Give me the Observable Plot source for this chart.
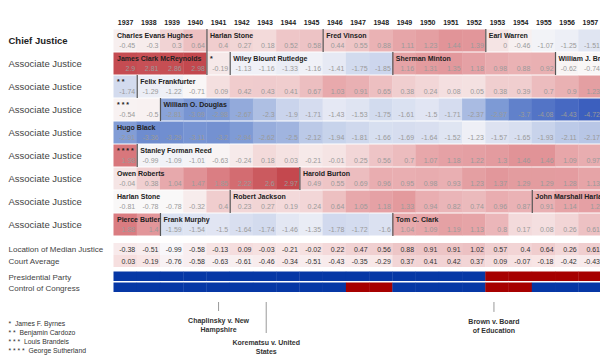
<!DOCTYPE html>
<html><head><meta charset="utf-8">
<script src="https://cdn.jsdelivr.net/npm/d3@7"></script>
<script src="https://cdn.jsdelivr.net/npm/@observablehq/plot@0.6"></script>
<style>
html,body{margin:0;padding:0;background:#fff;overflow:hidden;width:600px;height:360px}
#chart svg{display:block}
</style></head><body><div id="chart"></div>
<script>
// ---- categories ----
const years = [1937,1938,1939,1940,1941,1942,1943,1944,1945,1946,1947,1948,1949,1950,1951,1952,1953,1954,1955,1956,1957];
const rowLabels = ["Chief Justice","Associate Justice","Associate Justice","Associate Justice","Associate Justice","Associate Justice","Associate Justice","Associate Justice","Associate Justice"];

// ---- justice scores (one array per tenure segment) ----
const hughes = [-0.45,-0.3,0.3,0.64];
const stoneCJ = [0.4,0.27,0.18,0.52,0.58];
const vinson = [0.44,0.55,0.88,1.11,1.23,1.44,1.39];
const warren = [0,-0.46,-1.07,-1.25,-1.51];
const mcreynolds = [2.9,2.81,2.86,2.98];
const byrnes = [-0.19];
const rutledge = [-1.13,-1.16,-1.33,-1.16,-1.41,-1.75,-1.85];
const minton = [1.16,1.31,1.35,1.18,0.98,0.88,0.92];
const brennan = [-0.62,-0.74];
const cardozo = [-1.74];
const frankfurter = [-1.29,-1.22,-0.71,0.09,0.42,0.43,0.41,0.67,1.03,0.91,0.65,0.38,0.24,0.08,0.05,0.38,0.39,0.7,0.9,1.23];
const brandeis = [-0.54,-0.5];
const douglas = [-2.81,-3.09,-2.98,-2.67,-2.3,-1.9,-1.71,-1.43,-1.53,-1.75,-1.61,-1.5,-1.71,-2.37,-2.97,-3.7,-4.08,-4.43,-4.72];
const black = [-2.91,-3.36,-3.29,-3.11,-3.2,-2.94,-2.62,-2.5,-2.12,-1.94,-1.81,-1.66,-1.69,-1.64,-1.52,-1.23,-1.57,-1.65,-1.93,-2.11,-2.17];
const sutherland = [1.98];
const reed = [-0.99,-1.09,-1.01,-0.63,-0.24,0.18,0.03,-0.21,-0.01,0.25,0.56,0.7,1.07,1.18,1.22,1.3,1.46,1.46,1.09,0.97];
const roberts = [-0.04,0.38,1.04,1.47,1.85,2.22,2.6,2.97];
const burton = [0.49,0.55,0.69,0.96,0.95,0.98,0.93,1.23,1.37,1.29,1.29,1.28,1.13];
const stoneAJ = [-0.81,-0.78,-0.78,-0.32,0.4];
const jackson = [0.23,0.27,0.19,0.24,0.64,1.05,1.18,1.33,0.94,0.82,0.74,0.96,0.87];
const harlan = [0.91,1.14,1.2];
const butler = [1.88,1.4];
const murphy = [-1.59,-1.54,-1.5,-1.64,-1.74,-1.46,-1.35,-1.78,-1.72,-1.6];
const clark = [1.04,1.09,1.19,1.13,0.8,0.17,0.08,0.26,0.61];

// ---- summary rows ----
const medianJustice = [-0.38,-0.51,-0.99,-0.58,-0.13,0.09,-0.03,-0.21,-0.02,0.22,0.47,0.56,0.88,0.91,0.91,1.02,0.57,0.4,0.64,0.26,0.61];
const courtAverage = [0.03,-0.19,-0.76,-0.58,-0.63,-0.61,-0.46,-0.34,-0.51,-0.43,-0.35,-0.29,0.37,0.41,0.42,0.37,0.09,-0.07,-0.18,-0.42,-0.43];
const presidentialParty = ["D","D","D","D","D","D","D","D","D","D","D","D","D","D","D","D","R","R","R","R","R"];
const congressControl = ["D","D","D","D","D","D","D","D","D","D","R","R","D","D","D","D","R","R","D","D","D"];

// ---- annotations ----
const caseNames = ["Chaplinsky v. New\nHampshire","Korematsu v. United\nStates","Brown v. Board\nof Education"];
const casePositions = [1941.5, 1943.55, 1953.35];
const caseDepth = [0.29, 1, 0.32];
const footnotes = ["*\u00a0\u00a0James F. Byrnes","* *\u00a0\u00a0Benjamin Cardozo","* * *\u00a0\u00a0Louis Brandeis","* * * *\u00a0\u00a0George Sutherland"];

// ---- tables built from the arrays ----
const segments = [
  {row:0,name:"Charles Evans Hughes",start:1937,values:hughes},
  {row:0,name:"Harlan Stone",start:1941,values:stoneCJ},
  {row:0,name:"Fred Vinson",start:1946,values:vinson},
  {row:0,name:"Earl Warren",start:1953,values:warren},
  {row:1,name:"James Clark McReynolds",start:1937,values:mcreynolds},
  {row:1,name:"*",start:1941,values:byrnes},
  {row:1,name:"Wiley Blount Rutledge",start:1942,values:rutledge},
  {row:1,name:"Sherman Minton",start:1949,values:minton},
  {row:1,name:"William J. Brennan",start:1956,values:brennan},
  {row:2,name:"* *",start:1937,values:cardozo},
  {row:2,name:"Felix Frankfurter",start:1938,values:frankfurter},
  {row:3,name:"* * *",start:1937,values:brandeis},
  {row:3,name:"William O. Douglas",start:1939,values:douglas},
  {row:4,name:"Hugo Black",start:1937,values:black},
  {row:5,name:"* * * *",start:1937,values:sutherland},
  {row:5,name:"Stanley Forman Reed",start:1938,values:reed},
  {row:6,name:"Owen Roberts",start:1937,values:roberts},
  {row:6,name:"Harold Burton",start:1945,values:burton},
  {row:7,name:"Harlan Stone",start:1937,values:stoneAJ},
  {row:7,name:"Robert Jackson",start:1942,values:jackson},
  {row:7,name:"John Marshall Harlan",start:1955,values:harlan},
  {row:8,name:"Pierce Butler",start:1937,values:butler},
  {row:8,name:"Frank Murphy",start:1939,values:murphy},
  {row:8,name:"Tom C. Clark",start:1949,values:clark}
];
const cells = segments.flatMap(s => s.values.map((v,i) => ({row:s.row, year:s.start+i, value:v})));
const statCells = years.flatMap((y,i) => [{row:"median",year:y,value:medianJustice[i]},{row:"avg",year:y,value:courtAverage[i]}]);
const partyCells = years.flatMap((y,i) => [{row:"pres",year:y,party:presidentialParty[i]},{row:"cong",year:y,party:congressControl[i]}]);
const cases = caseNames.map((n,i) => ({label:n, x:casePositions[i], depth:caseDepth[i]}));

const font = "'Liberation Sans', Arial, Helvetica, sans-serif";
const style = {fontFamily: font, background: "white", overflow: "hidden"};
const xScale = {domain:[1937,1958], range:[113.5,601.5], axis:null};

const heat = Plot.plot({
  width:600, height:240, marginTop:26, marginBottom:2, marginLeft:114, marginRight:0,
  style,
  x: xScale,
  y: {type:"band", domain:[0,1,2,3,4,5,6,7,8], padding:0, axis:null},
  color: {type:"linear", domain:[-4.72,-3,-2,-1.3,-0.8,0,1,2,3],
          range:["#3c5fbe","#7b98d4","#c4d0ea","#eceef6","#f9f8f8","#f5e4e4","#e8abae","#d8767b","#c3474d"], interpolate:"rgb"},
  marks: [
    Plot.barX(cells, {x1:"year", x2:d=>d.year+1, y:"row", fill:"value", insetTop:0.5, insetBottom:0.5, insetRight:-0.3}),
    Plot.tickX(segments.filter(s=>s.start>1937), {x:"start", y:"row", stroke:"#555", strokeWidth:1.2}),
    Plot.text(cells, {x:d=>d.year+1, y:"row", text:d=>String(d.value), dx:-2, dy:4.5, textAnchor:"end", fontSize:7, fill:"#9a9a9a"}),
    Plot.text(segments, {x:"start", y:"row", text:"name", dx:3, dy:-5.5, textAnchor:"start", fontWeight:"bold", fontSize:7, fill:"#222"}),
    Plot.text(years, {x:d=>d+0.5, text:String, frameAnchor:"top", dy:-6, fontWeight:"bold", fontSize:7, fill:"#222"}),
    Plot.text(rowLabels.slice(0,1), {y:(d,i)=>i, text:d=>d, frameAnchor:"left", dx:-106, textAnchor:"start", fontSize:9.5, fontWeight:"bold", fill:"#222"}),
    Plot.text(rowLabels.slice(1), {y:(d,i)=>i+1, text:d=>d, frameAnchor:"left", dx:-106, textAnchor:"start", fontSize:9.5, fill:"#444"})
  ]
});

const stats = Plot.plot({
  width:600, height:28, marginTop:3, marginBottom:1, marginLeft:114, marginRight:0,
  style,
  x: xScale,
  y: {type:"band", domain:["median","avg"], padding:0, axis:null},
  color: {type:"linear", domain:[-1,-0.2,1.1], range:["#f8f7fa","#f8e6e6","#ebbfc1"], interpolate:"rgb"},
  marks: [
    Plot.barX(statCells, {x1:"year", x2:d=>d.year+1, y:"row", fill:"value", insetRight:-0.3}),
    Plot.text(statCells, {x:d=>d.year+1, y:"row", text:d=>String(d.value), dx:-2, textAnchor:"end", fontSize:7, fill:"#333"}),
    Plot.text(["Location of Median Justice","Court Average"], {y:(d,i)=>i===0?"median":"avg", text:d=>d, frameAnchor:"left", dx:-106, textAnchor:"start", fontSize:8, fill:"#444"})
  ]
});

const party = Plot.plot({
  width:600, height:27, marginTop:2.5, marginBottom:1.5, marginLeft:114, marginRight:0,
  style,
  x: xScale,
  y: {type:"band", domain:["pres","cong"], padding:0, axis:null},
  color: {type:"ordinal", domain:["D","R"], range:["#0637a5","#a60000"]},
  marks: [
    Plot.barX(partyCells, {x1:"year", x2:d=>d.year+1, y:"row", fill:"party", insetTop:0.5, insetBottom:1, insetRight:-0.3}),
    Plot.text(["Presidential Party","Control of Congress"], {y:(d,i)=>i===0?"pres":"cong", text:d=>d, frameAnchor:"left", dx:-106, textAnchor:"start", fontSize:8, fill:"#444"})
  ]
});

const notes = Plot.plot({
  width:600, height:65, marginTop:0, marginBottom:0, marginLeft:114, marginRight:0,
  style,
  x: xScale,
  y: {domain:[0,1], range:[7,38], axis:null},
  marks: [
    Plot.ruleX(cases, {x:"x", y1:0, y2:"depth", stroke:"#999", strokeWidth:1}),
    Plot.text(cases, {x:"x", y:"depth", text:"label", lineAnchor:"top", dy:4.5, fontSize:7, fontWeight:"bold", fill:"#333", lineHeight:1.35}),
    Plot.text([footnotes.join("\n")], {text:d=>d, frameAnchor:"top-left", dx:-106, dy:24.5, lineAnchor:"top", textAnchor:"start", fontSize:6.8, fill:"#333", lineHeight:1.3})
  ]
});

const root = document.getElementById("chart");
root.append(heat, stats, party, notes);
</script></body></html>
